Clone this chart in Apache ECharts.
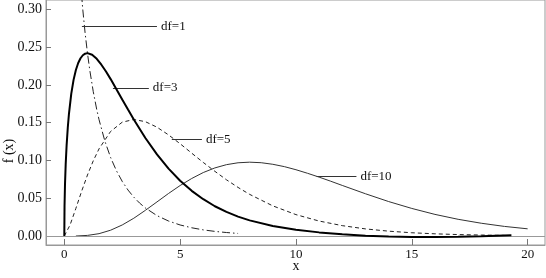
<!DOCTYPE html>
<html>
<head>
<meta charset="utf-8">
<script src="https://cdn.jsdelivr.net/npm/echarts@6/dist/echarts.min.js"></script>
<style>
html,body{margin:0;padding:0;background:#fff;}
#chart{width:546px;height:278px;}
</style>
</head>
<body>
<div id="chart"></div>
<script>
// Chi-square density curves
var df1 = [[0.6,0.3815],[0.7,0.3360],[0.8,0.2990],[0.9,0.2681],[1.0,0.2420],[1.1,0.2194],[1.25,0.1910],[1.4,0.1674],[1.5,0.1539],[1.75,0.1257],[2,0.1038],[2.25,0.0864],[2.5,0.0723],[2.75,0.0608],[3,0.0514],[3.25,0.0436],[3.5,0.0371],[4,0.0270],[4.5,0.0198],[5,0.0146],[5.5,0.0109],[6,0.0081],[6.5,0.0061],[7,0.0046],[7.5,0.0034]];
var df3 = [[0,0],[0.01,0.0397],[0.03,0.0681],[0.06,0.0948],[0.1,0.1200],[0.15,0.1433],[0.2,0.1614],[0.3,0.1881],[0.4,0.2066],[0.5,0.2197],[0.6,0.2289],[0.7,0.2352],[0.8,0.2392],[0.9,0.2413],[1,0.2420],[1.2,0.2398],[1.4,0.2344],[1.6,0.2267],[1.8,0.2176],[2,0.2076],[2.25,0.1943],[2.5,0.1807],[2.75,0.1673],[3,0.1542],[3.5,0.1297],[4,0.1080],[4.5,0.0892],[5,0.0732],[5.5,0.0598],[6,0.0487],[6.5,0.0394],[7,0.0319],[7.5,0.0257],[8,0.0207],[9,0.0133],[10,0.0082],[11,0.0048],[12,0.0024],[13,0.0004],[14,-0.0008],[15,-0.0013],[16,-0.0014],[17,-0.0010],[18,-0.0002],[19.3,0.0010]];
var df5 = [[0,0],[0.25,0.0147],[0.5,0.0366],[0.75,0.0594],[1,0.0807],[1.25,0.0995],[1.5,0.1154],[2,0.1384],[2.5,0.1506],[3,0.1542],[3.5,0.1513],[4,0.1440],[4.5,0.1338],[5,0.1221],[5.5,0.1096],[6,0.0973],[6.5,0.0856],[7,0.0744],[7.5,0.0643],[8,0.0551],[9,0.0399],[10,0.0283],[11,0.0198],[12,0.0137],[13,0.0094],[14,0.0064],[15,0.0043],[16,0.0029],[17,0.0019],[18,0.0013],[19,0.0008]];
var df10 = [[0.5,0],[1,0.0008],[1.5,0.0031],[2,0.0077],[2.5,0.0146],[3,0.0235],[3.5,0.0340],[4,0.0451],[4.5,0.0563],[5,0.0668],[5.5,0.0761],[6,0.0840],[6.5,0.0901],[7,0.0944],[7.5,0.0969],[8,0.0977],[8.5,0.0970],[9,0.0949],[9.5,0.0918],[10,0.0877],[10.5,0.0830],[11,0.0779],[11.5,0.0725],[12,0.0669],[13,0.0559],[14,0.0456],[15,0.0365],[16,0.0286],[17,0.0221],[18,0.0169],[19,0.0127],[20,0.0095]];

var seriesNames = ['df=1','df=3','df=5','df=10'];
// leader lines: [startX, endX, y] in data units
var leaders = [[0.76,4.0,0.2776],[2.10,3.65,0.196],[4.64,5.94,0.1276],[10.89,12.61,0.0789]];
var xTicks = [0,5,10,15,20];
var yTicks = [0,0.05,0.10,0.15,0.20,0.25,0.30];
var xTitle = 'x';
var yTitle = 'f (x)';

var FONT = "'Liberation Serif','Times New Roman',serif";
var chart = echarts.init(document.getElementById('chart'), null, {renderer:'canvas'});

function leaderMark(i){
  var l = leaders[i];
  return {
    silent: true,
    symbol: ['none','none'],
    animation: false,
    lineStyle: {type:'solid', color:'#333', width:1},
    label: {show:true, position:'end', distance:4, formatter: seriesNames[i], color:'#111', fontFamily:FONT, fontSize:13},
    emphasis: {disabled:true},
    data: [[{coord:[l[0],l[2]]},{coord:[l[1],l[2]]}]]
  };
}

var styles = [
  {color:'#222', width:1, type:[8,3,1.5,3]},
  {color:'#000', width:2, type:'solid'},
  {color:'#222', width:1, type:[4,3]},
  {color:'#333', width:1, type:'solid'}
];
var datas = [df1, df3, df5, df10];

var series = datas.map(function(d,i){
  return {
    name: seriesNames[i],
    type: 'line',
    data: d,
    showSymbol: false,
    smooth: false,
    clip: true,
    animation: false,
    lineStyle: styles[i],
    z: i===1 ? 5 : 3,
    markLine: leaderMark(i)
  };
});
// zero reference line
series.push({
  type:'line', data:[], animation:false,
  markLine:{silent:true, symbol:['none','none'], animation:false,
    lineStyle:{type:'solid', color:'#999', width:1},
    label:{show:false},
    data:[{yAxis:0}]}
});

chart.setOption({
  backgroundColor:'#fff',
  animation:false,
  grid:{left:46, right:1, top:0, bottom:33, outerBoundsMode:'none', containLabel:false, show:true, borderColor:'#999', borderWidth:1},
  xAxis:{
    type:'value', min:-0.79, max:20.75,
    axisLine:{show:true, onZero:false, lineStyle:{color:'#999'}},
    axisTick:{show:true, inside:true, length:6, customValues:xTicks, lineStyle:{color:'#777'}},
    axisLabel:{customValues:xTicks, margin:3, fontFamily:FONT, fontSize:13, color:'#111'},
    splitLine:{show:false}
  },
  yAxis:{
    type:'value', min:-0.0119, max:0.3123,
    axisLine:{show:true, onZero:false, lineStyle:{color:'#999'}},
    axisTick:{show:true, inside:true, length:5, customValues:yTicks, lineStyle:{color:'#777'}},
    axisLabel:{customValues:yTicks, margin:4, fontFamily:FONT, fontSize:14, color:'#111',
      formatter:function(v){return v.toFixed(2);}},
    splitLine:{show:false}
  },
  graphic:[
    {type:'text', x:9, y:151, rotation:Math.PI/2,
      style:{text:yTitle, font:"14px 'Liberation Serif','Times New Roman',serif", fill:'#111', textAlign:'center', textVerticalAlign:'middle'}},
    {type:'text', x:296, y:266,
      style:{text:xTitle, font:"14px 'Liberation Serif','Times New Roman',serif", fill:'#111', textAlign:'center', textVerticalAlign:'middle'}}
  ],
  series: series
});
</script>
</body>
</html>
